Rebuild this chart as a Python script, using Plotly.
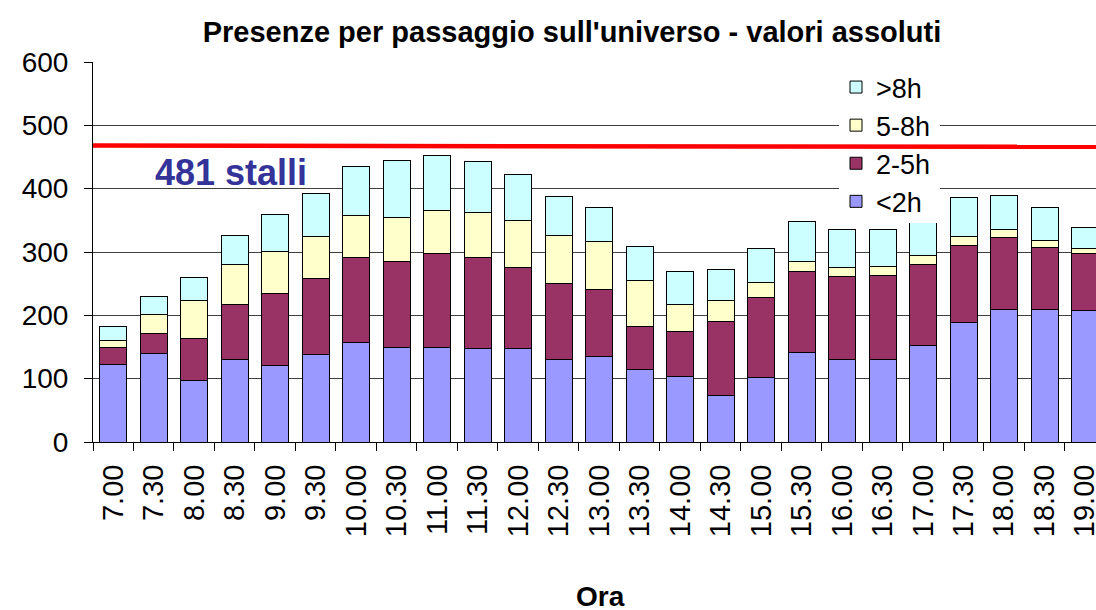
import plotly.graph_objects as go

ore = ["7.00", "7.30", "8.00", "8.30", "9.00", "9.30", "10.00", "10.30", "11.00", "11.30",
       "12.00", "12.30", "13.00", "13.30", "14.00", "14.30", "15.00", "15.30", "16.00", "16.30",
       "17.00", "17.30", "18.00", "18.30", "19.00"]

meno_2h = [122, 140, 97, 131, 121, 138, 157, 150, 150, 148,
           148, 130, 135, 115, 103, 73, 102, 142, 130, 131,
           152, 188, 210, 209, 208]
da_2_5h = [28, 31, 66, 86, 113, 120, 134, 135, 147, 144,
           128, 121, 106, 68, 72, 118, 126, 127, 131, 132,
           128, 123, 113, 98, 89]
da_5_8h = [10, 31, 61, 63, 67, 67, 66, 69, 68, 71,
           73, 75, 75, 72, 42, 32, 24, 16, 15, 14,
           15, 13, 12, 11, 9]
oltre_8h = [22, 28, 36, 46, 58, 68, 78, 90, 87, 80,
            73, 61, 55, 53, 52, 50, 54, 63, 60, 59,
            65, 62, 55, 53, 32]

stalli_linea = [468, 466]  # red capacity line, left and right ends
stalli_label = "481 stalli"

series = [
    ("<2h", meno_2h, "#9999FF"),
    ("2-5h", da_2_5h, "#993366"),
    ("5-8h", da_5_8h, "#FFFFCC"),
    (">8h", oltre_8h, "#CCFFFF"),
]

FONT = "Liberation Sans, Arial, sans-serif"
L, T, B = 93, 62, 442
PW = 1096 - L
PH = B - T

fig = go.Figure()
for name, vals, col in series:
    fig.add_trace(go.Bar(
        x=ore, y=vals, name=name,
        marker=dict(color=col, line=dict(color="black", width=1)),
    ))

fig.update_layout(
    width=1096, height=610,
    barmode="stack", bargap=0.33,
    plot_bgcolor="white", paper_bgcolor="white",
    margin=dict(l=L, r=0, t=T, b=610 - B, autoexpand=False),
    font=dict(family=FONT, color="black", size=26),
    title=dict(text="<b>Presenze per passaggio sull'universo - valori assoluti</b>",
               x=572 / 1096, xref="container", xanchor="center",
               y=1 - 32 / 610, yanchor="middle",
               font=dict(size=29, family=FONT, color="black")),
    legend=dict(traceorder="reversed", x=(836 - L) / PW, xanchor="left",
                y=(B - 63) / PH, yanchor="top",
                bgcolor="rgba(0,0,0,0)", font=dict(size=27, family=FONT),
                itemclick=False),
    showlegend=True,
)

fig.update_yaxes(range=[0, 600], dtick=100, showgrid=True, gridcolor="#404040", gridwidth=1,
                 showline=True, linecolor="black", linewidth=1, ticks="outside", ticklen=8,
                 tickcolor="black", tickfont=dict(size=28, family=FONT), zeroline=False,
                 automargin=False, ticklabelstandoff=10)
fig.update_xaxes(type="category", range=[-0.5, 24.27], showline=True, linecolor="black",
                 linewidth=1, ticks="outside", ticklen=8, tickcolor="black", tickson="boundaries",
                 tickangle=-90, tickfont=dict(size=29, family=FONT), showgrid=False,
                 automargin=False, ticklabelstandoff=10)

# white box behind the legend (hides gridlines and bar tops), red line drawn above it
fig.add_shape(type="rect", xref="paper", yref="paper", x0=(839 - L) / PW, x1=(940 - L) / PW,
              y0=(B - 223) / PH, y1=(B - 66) / PH,
              fillcolor="white", line=dict(width=0), layer="above")
fig.add_shape(type="line", xref="paper", yref="y", x0=0, x1=1,
              y0=stalli_linea[0], y1=stalli_linea[1],
              line=dict(color="#FF0000", width=4.5), layer="above")
# the reference clips the long tick labels at the bottom of the axis area
fig.add_shape(type="rect", xref="paper", yref="paper", x0=-0.1, x1=1.0,
              y0=-(578 - B) / PH, y1=-(535 - B) / PH,
              fillcolor="white", line=dict(width=0), layer="above")

fig.add_annotation(text="<b>" + stalli_label + "</b>", x=2.9, y=426, xref="x", yref="y",
                   showarrow=False, font=dict(size=36, family=FONT, color="#333399"))
fig.add_annotation(text="<b>Ora</b>", x=(600 - L) / PW, y=-(596 - B) / PH,
                   xref="paper", yref="paper", showarrow=False, xanchor="center",
                   yanchor="middle", font=dict(size=28, family=FONT, color="black"))

fig.write_html("out.html", post_script="document.body.style.margin='0';",
               config={"displayModeBar": False})
